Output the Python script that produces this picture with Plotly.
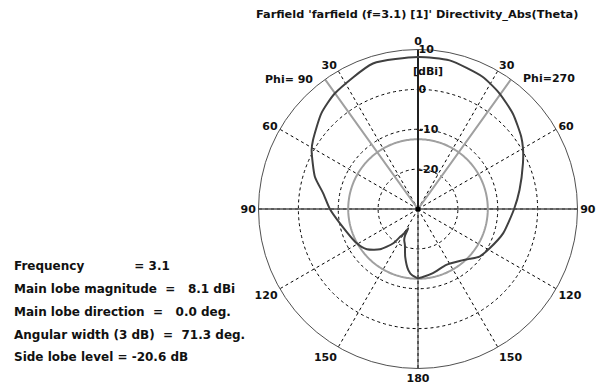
import numpy as np
import plotly.graph_objects as go

# ---- data ----
title = "Farfield 'farfield (f=3.1) [1]' Directivity_Abs(Theta)"
# Phi = 270 half (drawn on the right), theta in degrees, directivity in dBi
theta_phi270 = [0, 12, 26, 35, 45, 55, 60, 66.5, 79.4, 90, 106, 118.7, 127.7, 134, 141.3, 153.1, 166.9, 177.2, 180]
dir_phi270 = [8.1, 8.1, 6.9, 5.5, 3.7, 1.6, 0.4, -1.3, -4.1, -5.9, -7.8, -9.5, -10.5, -12.0, -13.3, -14.3, -13.5, -12.8, -12.6]
# Phi = 90 half (drawn on the left)
theta_phi90 = [0, 17.2, 35.8, 45.3, 56.7, 61, 72.6, 80.6, 90, 100.4, 119.2, 128.2, 136.7, 144.2, 147.3, 150.5, 153.3, 154, 156, 160, 165, 171, 175, 180]
dir_phi90 = [8.1, 8.2, 5.7, 4.1, 1.5, 0.5, -2.9, -5.9, -7.9, -10.1, -12.4, -13.7, -16.1, -19.4, -21.7, -23.0, -24.6, -22.6, -21.5, -20.4, -17.6, -14.5, -13.3, -12.6]

main_lobe_magnitude = 8.1
main_lobe_direction = 0.0
angular_width = 71.3
side_lobe_level = -20.6
frequency = 3.1

r_ticks = [-20, -10, 0, 10]
r_ticktext = ["-20", "-10", "0", "10"]
ang_ticks = [0, 30, 60, 90, 120, 150, 180, 210, 240, 270, 300, 330]
ang_ticktext = ["0", "30", "60", "90", "120", "150", "180", "150", "120", "90", "60", "30"]
r_range = [-30, 10]

info_lines = [
    "Frequency\u00a0\u00a0\u00a0\u00a0\u00a0\u00a0\u00a0\u00a0\u00a0\u00a0\u00a0\u00a0= 3.1",
    "Main lobe magnitude\u00a0\u00a0=\u00a0\u00a0\u00a08.1 dBi",
    "Main lobe direction\u00a0\u00a0=\u00a0\u00a0\u00a00.0 deg.",
    "Angular width (3 dB)\u00a0\u00a0=\u00a0\u00a071.3 deg.",
    "Side lobe level = -20.6 dB",
]

FONT = "DejaVu Sans"
TXT = "#111111"
DARK = "#404040"
GRAY = "#a0a0a0"

def b(s):
    return "<b>" + s + "</b>"

# build closed curve: right half (phi=270) clockwise, left half (phi=90) back up
curve_theta = list(theta_phi270) + [360 - t for t in reversed(theta_phi90)]
curve_r = list(dir_phi270) + list(reversed(dir_phi90))

fig = go.Figure()

# solid axes lines (horizontal diameter, lower vertical)
fig.add_trace(go.Scatterpolar(r=[r_range[1], r_range[0], r_range[1]], theta=[90, 90, 270],
                              mode="lines", line=dict(color="#505050", width=1.5),
                              hoverinfo="skip", showlegend=False))
fig.add_trace(go.Scatterpolar(r=[r_range[0], r_range[1]], theta=[180, 180],
                              mode="lines", line=dict(color="#303030", width=1),
                              hoverinfo="skip", showlegend=False))

# side lobe level circle
sll_abs = main_lobe_magnitude + side_lobe_level
circ_t = np.linspace(0, 360, 361)
fig.add_trace(go.Scatterpolar(r=[sll_abs] * len(circ_t), theta=circ_t, mode="lines",
                              line=dict(color=GRAY, width=2), hoverinfo="skip", showlegend=False))

# 3 dB beamwidth lines
half = angular_width / 2
fig.add_trace(go.Scatterpolar(r=[r_range[1], r_range[0], r_range[1]],
                              theta=[360 - half, 0, half], mode="lines",
                              line=dict(color=GRAY, width=2), hoverinfo="skip", showlegend=False))

# main lobe direction line
fig.add_trace(go.Scatterpolar(r=[r_range[0], r_range[1]], theta=[main_lobe_direction] * 2,
                              mode="lines", line=dict(color="#202020", width=2),
                              hoverinfo="skip", showlegend=False))

# directivity curve
fig.add_trace(go.Scatterpolar(r=curve_r, theta=curve_theta, mode="lines",
                              line=dict(color=DARK, width=2, shape="spline", smoothing=0.6),
                              hoverinfo="skip", showlegend=False))

# centre dot
fig.add_trace(go.Scatterpolar(r=[r_range[0]], theta=[0], mode="markers",
                              marker=dict(color="#000000", size=5), hoverinfo="skip", showlegend=False))

cx, cy, R = 418, 209, 159.5
W, H = 610, 389
fig.update_layout(
    width=W, height=H,
    margin=dict(l=0, r=0, t=0, b=0),
    paper_bgcolor="white", plot_bgcolor="white",
    showlegend=False,
    polar=dict(
        domain=dict(x=[(cx - R) / W, (cx + R) / W], y=[(H - cy - R) / H, (H - cy + R) / H]),
        bgcolor="white",
        angularaxis=dict(direction="clockwise", rotation=90,
                         tickmode="array", tickvals=ang_ticks, ticktext=[b(t) for t in ang_ticktext],
                         showline=True, linecolor="#505050", linewidth=1,
                         showgrid=True, gridcolor="#000000", gridwidth=1, griddash="3px,3px",
                         ticks="", tickfont=dict(family=FONT, size=11, color=TXT)),
        radialaxis=dict(range=r_range, angle=90, tickangle=90,
                        tickmode="array", tickvals=r_ticks, ticktext=[b(t) for t in r_ticktext],
                        showline=False, ticks="", side="clockwise",
                        showgrid=True, gridcolor="#000000", gridwidth=1, griddash="3px,3px",
                        tickfont=dict(family=FONT, size=11, color=TXT)),
    ),
    font=dict(family=FONT),
)

ann = []
ann.append(dict(text=b(title), x=417 / W, y=1 - 14 / H, xref="paper", yref="paper",
                xanchor="center", yanchor="middle", showarrow=False,
                font=dict(family=FONT, size=11.3, color=TXT)))
ann.append(dict(text=b("[dBi]"), x=428 / W, y=1 - 71 / H, xref="paper", yref="paper",
                xanchor="center", yanchor="middle", showarrow=False,
                font=dict(family=FONT, size=11, color=TXT)))
ann.append(dict(text=b("Phi= 90"), x=263 / W, y=1 - 79 / H, xref="paper", yref="paper",
                xanchor="left", yanchor="middle", showarrow=False,
                font=dict(family=FONT, size=11, color=TXT)))
ann.append(dict(text=b("Phi=270"), x=521 / W, y=1 - 78 / H, xref="paper", yref="paper",
                xanchor="left", yanchor="middle", showarrow=False,
                font=dict(family=FONT, size=11, color=TXT)))
ys = [266, 289, 312, 334.5, 357]
for line, yy in zip(info_lines, ys):
    ann.append(dict(text=b(line), x=12 / W, y=1 - yy / H, xref="paper", yref="paper",
                    xanchor="left", yanchor="middle", showarrow=False,
                    font=dict(family=FONT, size=12, color=TXT)))
fig.update_layout(annotations=ann)

fig.write_html("out.html")
